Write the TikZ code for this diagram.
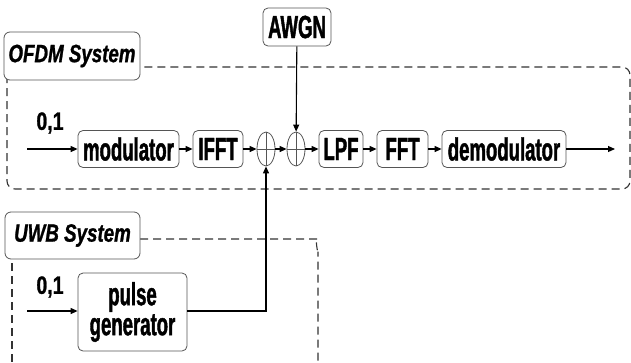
\documentclass[tikz,border=0pt]{standalone}
\usepackage{fontspec}
\usetikzlibrary{arrows.meta,shapes.geometric}
\newfontfamily\boxfont[FakeStretch=0.58,FakeBold=1.3]{Liberation Sans}
\newfontfamily\labfont[FakeStretch=0.75,FakeBold=1]{Liberation Sans}
\newfontfamily\numfont[FakeStretch=0.78,FakeBold=1]{Liberation Sans}
\definecolor{bordergray}{HTML}{555555}
\tikzset{
  blockbox/.style={draw=bordergray, line width=0.8pt, rounded corners=5pt, fill=white,
    inner sep=0pt, font=\boxfont\bfseries\fontsize{32}{30}\selectfont, align=center},
  sysbox/.style={draw=bordergray, line width=0.8pt, rounded corners=6pt, fill=white,
    inner sep=0pt, font=\labfont\bfseries\itshape\fontsize{25}{26}\selectfont},
  numlab/.style={inner sep=0pt, font=\numfont\bfseries\fontsize{25}{26}\selectfont},
  adder/.style={draw=bordergray, line width=0.8pt, ellipse, minimum width=18pt, minimum height=34pt, inner sep=0pt},
  sig/.style={line width=1.1pt, -{Triangle[length=7pt,width=6pt]}},
  sysframe/.style={draw=black!80, line width=1.1pt, dash pattern=on 8pt off 5pt, rounded corners=8pt}
}
\begin{document}
\begin{tikzpicture}[x=1pt,y=-1pt]
\useasboundingbox (0,0) rectangle (631,362);
% dashed frames
\draw[sysframe] (7,67) rectangle (630,189);
\draw[sysframe] (140,239) -- (310,239) to[out=0,in=-90] (318,247) -- (318,362);
\draw[sysframe] (12,250) -- (12,362);
% system labels
\node[sysbox, minimum width=136pt, minimum height=48pt] (ofdm) at (72,56) {OFDM System};
\node[sysbox, minimum width=135pt, minimum height=47pt] (uwb) at (72.5,235.5) {UWB System};
% OFDM chain
\node[blockbox, minimum width=68pt, minimum height=38pt] (awgn) at (297,27) {AWGN};
\node[blockbox, minimum width=101pt, minimum height=37pt] (mod) at (128.5,149) {modulator};
\node[blockbox, minimum width=50pt, minimum height=37pt] (ifft) at (218,149) {IFFT};
\node[adder] (add1) at (266,149) {};
\node[adder] (add2) at (296,149) {};
\draw[line width=0.8pt, bordergray] (add1.north) -- (add1.south) (add1.west) -- (add1.east);
\draw[line width=0.8pt, bordergray] (add2.north) -- (add2.south) (add2.west) -- (add2.east);
\node[blockbox, minimum width=44pt, minimum height=37pt] (lpf) at (341,149) {LPF};
\node[blockbox, minimum width=51pt, minimum height=37pt] (fft) at (402.5,149) {FFT};
\node[blockbox, minimum width=124pt, minimum height=37pt] (demod) at (504,149) {demodulator};
\coordinate (in1) at (27,149);
\coordinate (out1) at (615,149);
\node[numlab] (lab1) at (50,123) {0,1};
\draw[sig] (in1) -- (mod);
\draw[sig] (mod) -- (ifft);
\draw[sig] (ifft) -- (add1);
\draw[sig] (add1) -- (add2);
\draw[sig] (add2) -- (lpf);
\draw[sig] (lpf) -- (fft);
\draw[sig] (fft) -- (demod);
\draw[sig] (demod) -- (out1);
\draw[sig] (awgn) -- (add2);
% UWB chain
\node[blockbox, minimum width=109pt, minimum height=78pt] (pulse) at (132.5,312) {pulse\\generator};
\coordinate (in2) at (27,311);
\coordinate (corner) at (266,311);
\node[numlab] (lab2) at (50,287) {0,1};
\draw[sig] (in2) -- (in2 -| pulse.west);
\draw[sig] (pulse.east |- corner) -- (corner) -- (add1);
\end{tikzpicture}
\end{document}
